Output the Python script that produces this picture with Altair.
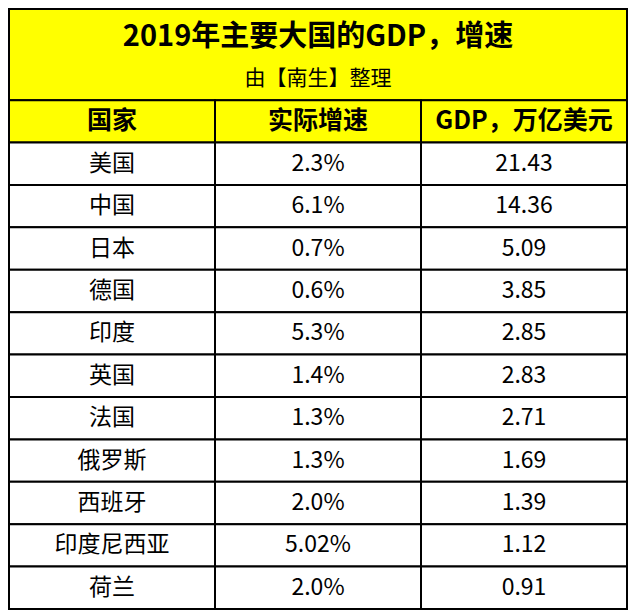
import altair as alt
import pandas as pd

title = "2019年主要大国的GDP，增速"
subtitle = "由【南生】整理"
headers = ["国家", "实际增速", "GDP，万亿美元"]
countries = ["美国", "中国", "日本", "德国", "印度", "英国", "法国", "俄罗斯", "西班牙", "印度尼西亚", "荷兰"]
growth = ["2.3%", "6.1%", "0.7%", "0.6%", "5.3%", "1.4%", "1.3%", "1.3%", "2.0%", "5.02%", "2.0%"]
gdp = ["21.43", "14.36", "5.09", "3.85", "2.85", "2.83", "2.71", "1.69", "1.39", "1.12", "0.91"]

YELLOW = "#FFFF00"
FONT = "Noto Sans CJK SC"
TITLE_H = 2.15
HEAD_H = 1.0
n = len(countries)
TOTAL = TITLE_H + HEAD_H + n

# rectangles (cells)
rects = [{"x0": 0, "x1": 3, "y0": 0, "y1": TITLE_H, "fill": YELLOW}]
for c in range(3):
    rects.append({"x0": c, "x1": c + 1, "y0": TITLE_H, "y1": TITLE_H + HEAD_H, "fill": YELLOW})
for i in range(n):
    for c in range(3):
        y0 = TITLE_H + HEAD_H + i
        rects.append({"x0": c, "x1": c + 1, "y0": y0, "y1": y0 + 1, "fill": "#FFFFFF"})
rect_df = pd.DataFrame(rects)

head_df = pd.DataFrame([{"x": c + 0.5, "y": TITLE_H + HEAD_H / 2, "t": headers[c]} for c in range(3)])
body = []
for i in range(n):
    yc = TITLE_H + HEAD_H + i + 0.5
    for c, val in enumerate([countries[i], growth[i], gdp[i]]):
        body.append({"x": c + 0.5, "y": yc, "t": val})
body_df = pd.DataFrame(body)
title_df = pd.DataFrame([{"x": 1.5, "y": TITLE_H * 0.31, "t": title}])
sub_df = pd.DataFrame([{"x": 1.5, "y": TITLE_H * 0.77, "t": subtitle}])

xs = alt.Scale(domain=[0, 3], nice=False, zero=False)
ys = alt.Scale(domain=[0, TOTAL], nice=False, zero=False, reverse=True)

cells = alt.Chart(rect_df).mark_rect(stroke="#000000", strokeWidth=2).encode(
    x=alt.X("x0:Q", scale=xs, axis=None),
    x2="x1:Q",
    y=alt.Y("y0:Q", scale=ys, axis=None),
    y2="y1:Q",
    fill=alt.Fill("fill:N", scale=None),
)

def text_layer(df, size, weight):
    return alt.Chart(df).mark_text(
        font=FONT, fontSize=size, fontWeight=weight, color="#000000",
        align="center", baseline="middle",
    ).encode(
        x=alt.X("x:Q", scale=xs, axis=None),
        y=alt.Y("y:Q", scale=ys, axis=None),
        text="t:N",
    )

chart = alt.layer(
    cells,
    text_layer(title_df, 29, "bold"),
    text_layer(sub_df, 21, "normal"),
    text_layer(head_df, 25, "bold"),
    text_layer(body_df, 23, "normal"),
).properties(
    width=618, height=600,
    padding={"left": 1, "top": 1, "right": 1, "bottom": 1},
    autosize=alt.AutoSizeParams(type="none"),
    background="#FFFFFF",
).configure_view(stroke=None)

chart.save("out.html", embed_options={"renderer": "svg", "actions": False})
